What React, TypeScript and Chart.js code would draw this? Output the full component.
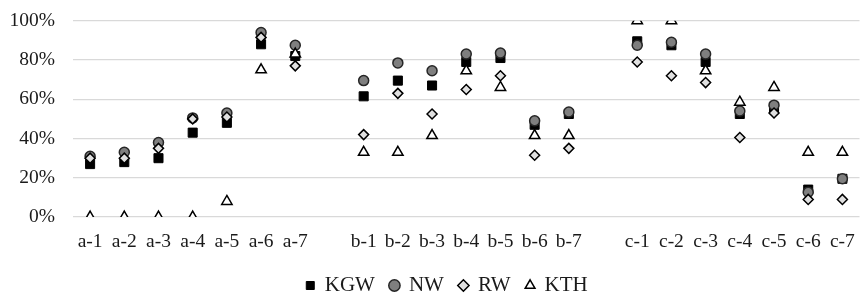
import React, { useEffect, useRef } from "react";
import { Chart, registerables } from "chart.js";

Chart.register(...registerables);

const categories = [
  "a-1", "a-2", "a-3", "a-4", "a-5", "a-6", "a-7", "",
  "b-1", "b-2", "b-3", "b-4", "b-5", "b-6", "b-7", "",
  "c-1", "c-2", "c-3", "c-4", "c-5", "c-6", "c-7",
];

const KGW = [27, 28, 30, 43, 48, 88, 82, null, 61.5, 69.5, 67, 79, 81, 47, 52.5, null, 89.5, 87.5, 79, 52.5, 55, 14, 19.5];
const NW = [31, 33, 38, 50.5, 53, 94, 87.5, null, 69.5, 78.5, 74.5, 83, 83.5, 49, 53.5, null, 87.5, 89, 83, 54, 57, 12.7, 19.5];
const RW = [30, 30, 35, 50, 51, 91.5, 77, null, 42, 63, 52.5, 65, 72, 31.5, 35, null, 79, 72, 68.5, 40.5, 53, 9, 9];
const KTH = [0, 0, 0, 0, 8, 75, 83, null, 33, 33, 41.5, 74.5, 66, 41.5, 41.5, null, 100, 100, 74.5, 58.5, 66, 33, 33];

const yTicks = [0, 20, 40, 60, 80, 100];

const W = 867;
const H = 315;
const SHIFT = -9;

const legendShift = {
  id: "legendShift",
  afterLayout(chart: any) {
    const l = chart.legend;
    if (l) {
      l.left += 9.5;
      l.right += 9.5;
    }
  },
};

export default function App() {
  const ref = useRef<HTMLCanvasElement | null>(null);
  useEffect(() => {
    if (!ref.current) return;
    const family = "'Liberation Serif', 'Times New Roman', serif";
    Chart.defaults.font.family = family;
    const tickFont = { family, size: 19.5 };
    const legendFont = { family, size: 21 };
    const chart = new Chart(ref.current, {
      type: "line",
      data: {
        labels: categories,
        datasets: [
          {
            label: "KGW", data: KGW, showLine: false, order: 4,
            pointStyle: "rect", pointRadius: 6.4, pointBackgroundColor: "#000000",
            pointBorderColor: "#000000", pointBorderWidth: 1,
            backgroundColor: "#000000", borderColor: "#000000",
          },
          {
            label: "NW", data: NW, showLine: false, order: 3,
            pointStyle: "circle", pointRadius: 5, pointBackgroundColor: "#7f7f7f",
            pointBorderColor: "#262626", pointBorderWidth: 1.5,
            backgroundColor: "#7f7f7f", borderColor: "#262626",
          },
          {
            label: "RW", data: RW, showLine: false, order: 2,
            pointStyle: "rectRot", pointRadius: 5, pointBackgroundColor: "#e0e0e0",
            pointBorderColor: "#000000", pointBorderWidth: 1.5,
            backgroundColor: "#e0e0e0", borderColor: "#000000",
          },
          {
            label: "KTH", data: KTH, showLine: false, order: 1,
            pointStyle: "triangle", pointRadius: 6, pointBackgroundColor: "#ffffff",
            pointBorderColor: "#000000", pointBorderWidth: 1.5,
            backgroundColor: "#ffffff", borderColor: "#000000",
          },
        ],
      },
      options: {
        animation: false,
        responsive: false,
        layout: { padding: { left: 8, right: 0, top: 8, bottom: 0 } },
        scales: {
          x: {
            type: "category",
            offset: true,
            grid: { display: false },
            border: { display: false },
            ticks: { color: "#1a1a1a", font: tickFont, autoSkip: false, maxRotation: 0, padding: 5.5 },
          },
          y: {
            min: 0,
            max: 100,
            afterBuildTicks: (axis: any) => {
              axis.ticks = yTicks.map((v) => ({ value: v }));
            },
            afterFit: (axis: any) => {
              axis.width = 65;
            },
            grid: { color: "#d9d9d9", lineWidth: 1.3, drawTicks: false },
            border: { display: false },
            ticks: {
              color: "#1a1a1a",
              font: tickFont,
              padding: 18,
              callback: (v: any) => `${v}%`,
            },
          },
        },
        plugins: {
          legend: {
            position: "bottom",
            labels: {
              font: legendFont,
              color: "#1a1a1a",
              usePointStyle: true,
              boxWidth: 8,
              boxHeight: 8,
              padding: 15.5,
              sort: (a: any, b: any) => a.datasetIndex - b.datasetIndex,
            },
          },
          tooltip: { enabled: false },
        },
      },
      plugins: [legendShift],
    } as any);
    return () => chart.destroy();
  }, []);
  return (
    <div style={{ position: "absolute", left: 0, top: 0, width: 867, height: 293, overflow: "hidden", background: "#fff" }}>
      <canvas ref={ref} width={W} height={H} style={{ width: W, height: H, display: "block", marginTop: SHIFT }} />
    </div>
  );
}
